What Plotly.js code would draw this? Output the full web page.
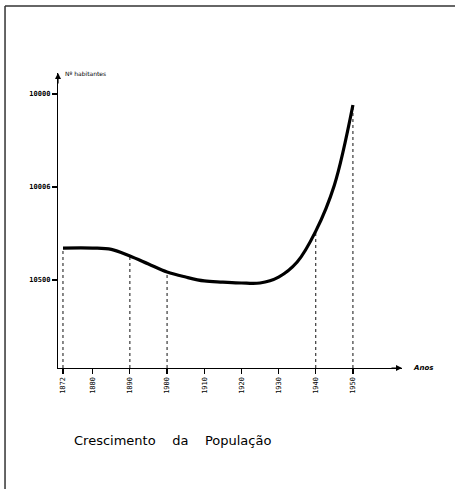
<!DOCTYPE html>
<html>
<head>
<meta charset="utf-8">
<script src="https://cdn.plot.ly/plotly-3.0.1.min.js"></script>
<style>html,body{margin:0;padding:0;background:#fff;}#chart{width:455px;height:489px;}</style>
</head>
<body>
<div id="chart"></div>
<script>
// Data
const years = [1872, 1880, 1885, 1890, 1895, 1900, 1905, 1910, 1915, 1920, 1925, 1930, 1935, 1940, 1945, 1950];
const population = [10672, 10672, 10665, 10629, 10586, 10543, 10516, 10495, 10489, 10484, 10484, 10516, 10597, 10763, 11010, 11441];
const markedYears = [1872, 1890, 1900, 1940, 1950];
const xTickYears = [1872, 1880, 1890, 1900, 1910, 1920, 1930, 1940, 1950];
const xTickLabels = ["1872", "1880", "1890", "1900", "1910", "1920", "1930", "1940", "1950"];
const yTickVals = [10500, 11000, 11500];
const yTickLabels = ["10500", "10006", "10000"];
const yAxisTitle = "Nº habitantes";
const xAxisTitle = "Anos";
const chartTitle = "Crescimento    da    População";

const xRange = [1870.66, 1963.2];
const yRange = [10027, 11613];

const traces = [];
markedYears.forEach(function (yr) {
  const i = years.indexOf(yr);
  traces.push({
    x: [yr, yr], y: [yRange[0], population[i]],
    mode: 'lines', line: {color: '#111', width: 1, dash: '3px,3px'},
    hoverinfo: 'skip', showlegend: false
  });
});
traces.push({
  x: years, y: population, mode: 'lines',
  line: {color: '#000', width: 3.2, shape: 'spline', smoothing: 1},
  showlegend: false
});

const font = {family: 'DejaVu Sans', color: '#000'};
const layout = {
  width: 455, height: 489,
  margin: {l: 58, r: 53, t: 73, b: 121},
  paper_bgcolor: '#fff', plot_bgcolor: '#fff',
  showlegend: false,
  xaxis: {
    range: xRange, showgrid: false, zeroline: false,
    showline: true, linecolor: '#000', linewidth: 1.2,
    tickmode: 'array', tickvals: xTickYears, ticktext: xTickLabels,
    ticks: 'outside', ticklen: 5, tickwidth: 1.2, tickcolor: '#000',
    tickangle: -90, tickfont: {family: 'DejaVu Sans Mono', size: 7, color: '#000'}
  },
  yaxis: {
    range: yRange, showgrid: false, zeroline: false,
    showline: true, linecolor: '#000', linewidth: 1.2,
    tickmode: 'array', tickvals: yTickVals, ticktext: yTickLabels,
    ticks: 'outside', ticklen: 5, tickwidth: 1.2, tickcolor: '#000',
    tickfont: {family: 'DejaVu Sans Mono', size: 7, color: '#000', weight: 'bold'}
  },
  shapes: [
    {type: 'line', xref: 'paper', yref: 'paper', x0: -0.154, x1: 1.16, y0: 1.227, y1: 1.227, line: {color: '#333', width: 1.5}},
    {type: 'line', xref: 'paper', yref: 'paper', x0: -0.154, x1: -0.154, y0: 1.227, y1: -0.42, line: {color: '#333', width: 1.5}}
  ],
  annotations: [
    {x: xRange[1], y: yRange[0], xref: 'x', yref: 'y', ax: -12, ay: 0, axref: 'pixel', ayref: 'pixel',
     showarrow: true, arrowhead: 2, arrowsize: 1, arrowwidth: 1.2, arrowcolor: '#000', text: ''},
    {x: xRange[0], y: yRange[1], xref: 'x', yref: 'y', ax: 0, ay: 12, axref: 'pixel', ayref: 'pixel',
     showarrow: true, arrowhead: 2, arrowsize: 1, arrowwidth: 1.2, arrowcolor: '#000', text: ''},
    {x: 1.025, y: 0, xref: 'paper', yref: 'paper', xanchor: 'left', yanchor: 'middle', showarrow: false,
     text: xAxisTitle, font: Object.assign({}, font, {size: 7, style: 'italic', weight: 'bold'})},
    {x: 0.015, y: 1.0, xref: 'paper', yref: 'paper', xanchor: 'left', yanchor: 'middle', showarrow: false,
     text: yAxisTitle, font: Object.assign({}, font, {size: 6})},
    {x: 0.04, y: -0.245, xref: 'paper', yref: 'paper', xanchor: 'left', yanchor: 'middle', showarrow: false,
     text: chartTitle, font: Object.assign({}, font, {size: 13})}
  ]
};

Plotly.newPlot('chart', traces, layout, {displayModeBar: false, staticPlot: true});
</script>
</body>
</html>
